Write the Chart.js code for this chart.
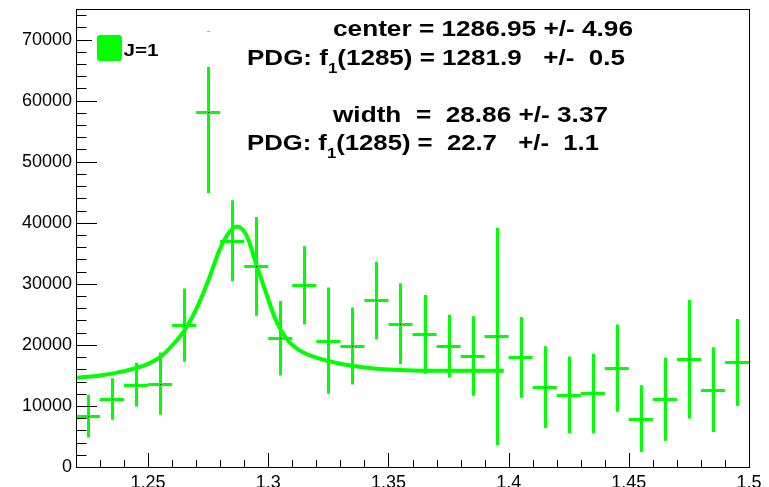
<!DOCTYPE html>
<html>
<head>
<meta charset="UTF-8">
<title>f1(1285) fit</title>
<script src="https://cdn.jsdelivr.net/npm/chart.js"></script>
<style>
  html, body { margin: 0; padding: 0; background: #fff; overflow: hidden; }
  canvas { display: block; }
</style>
</head>
<body>
<canvas id="c" width="769" height="487"></canvas>
<script>
// histogram bins (centres), contents and errors
const binCenters = [1.225, 1.235, 1.245, 1.255, 1.265, 1.275, 1.285, 1.295, 1.305, 1.315,
                    1.325, 1.335, 1.345, 1.355, 1.365, 1.375, 1.385, 1.395, 1.405, 1.415,
                    1.425, 1.435, 1.445, 1.455, 1.465, 1.475, 1.485, 1.495];
const counts = [8350, 11130, 13490, 13650, 23240, 58100, 37050, 32850, 21100, 29740,
                20690, 19800, 27280, 23470, 21720, 19800, 18170, 21390, 17950, 13090,
                11840, 12060, 16200, 7920, 11080, 17630, 12670, 17140];
const errors = [3500, 3400, 3600, 5100, 6000, 13260, 6650, 8100, 6100, 6400,
                8700, 6300, 6350, 6600, 6450, 5130, 6500, 17800, 6600, 6700,
                6270, 6500, 7150, 5450, 6800, 9700, 6950, 7100];
const binWidth = 0.01;

// fitted curve
const fitX = [1.220, 1.230, 1.240, 1.250, 1.255, 1.260, 1.265, 1.270, 1.275, 1.280,
              1.2835, 1.287, 1.291, 1.295, 1.299, 1.303, 1.308, 1.313, 1.320, 1.330,
              1.340, 1.350, 1.360, 1.380, 1.398];
const fitY = [14600, 15000, 15700, 16900, 18000, 19900, 22300, 25800, 30500, 35800,
              38300, 39400, 37900, 33200, 28600, 24200, 20800, 19100, 17900, 16900,
              16300, 15950, 15800, 15750, 15750];

const xTicks = [1.25, 1.3, 1.35, 1.4, 1.45, 1.5];
const yTicks = [0, 10000, 20000, 30000, 40000, 50000, 60000, 70000];
const legendLabel = 'J=1';

const GREEN = '#00ff00';
const FONT = '"Liberation Sans", Helvetica, Arial, sans-serif';

// helper: draw text pieces (with optional subscript) stretched to a target width
function drawLine(ctx, pieces, x, base, size, targetW) {
  ctx.save();
  let w = 0;
  pieces.forEach(p => {
    ctx.font = 'bold ' + (p.sub ? size * 0.65 : size) + 'px ' + FONT;
    w += ctx.measureText(p.t).width;
  });
  const sx = targetW / w;
  ctx.translate(x, base);
  ctx.scale(sx, 1);
  ctx.fillStyle = '#000';
  ctx.textBaseline = 'alphabetic';
  ctx.textAlign = 'left';
  let cx = 0;
  pieces.forEach(p => {
    ctx.font = 'bold ' + (p.sub ? size * 0.65 : size) + 'px ' + FONT;
    ctx.fillText(p.t, cx, p.sub ? size * 0.38 : 0);
    cx += ctx.measureText(p.t).width;
  });
  ctx.restore();
}

const rootStyle = {
  id: 'rootStyle',
  beforeDatasetsDraw(chart) {
    const {ctx, chartArea: a, scales: {x, y}} = chart;
    ctx.save();
    ctx.beginPath();
    ctx.rect(a.left, a.top, a.right - a.left, a.bottom - a.top);
    ctx.clip();
    ctx.strokeStyle = GREEN;
    ctx.lineWidth = 3;
    binCenters.forEach((c, i) => {
      const px = Math.round(x.getPixelForValue(c)) + 0.5;
      const py = Math.round(y.getPixelForValue(counts[i])) + 0.5;
      ctx.beginPath();
      ctx.moveTo(x.getPixelForValue(c - binWidth / 2), py);
      ctx.lineTo(x.getPixelForValue(c + binWidth / 2), py);
      ctx.moveTo(px, y.getPixelForValue(counts[i] - errors[i]));
      ctx.lineTo(px, y.getPixelForValue(counts[i] + errors[i]));
      ctx.stroke();
    });
    ctx.restore();
  },
  afterDatasetsDraw(chart) {
    const {ctx, chartArea: a, scales: {x, y}} = chart;
    ctx.save();
    // tiny black markers
    ctx.fillStyle = '#000';
    binCenters.forEach((c, i) => {
      ctx.fillRect(Math.round(x.getPixelForValue(c)), Math.round(y.getPixelForValue(counts[i])), 1, 1);
    });

    // frame
    ctx.strokeStyle = '#000';
    ctx.lineWidth = 1;
    ctx.strokeRect(Math.round(a.left) + 0.5, Math.round(a.top) + 0.5,
                   Math.round(a.right - a.left), Math.round(a.bottom - a.top));

    // ticks pointing inward
    ctx.beginPath();
    const ylen = 21, xlen = 14;
    for (let v = 0; v <= y.max + 1; v += 2000) {
      const py = Math.round(y.getPixelForValue(v)) + 0.5;
      const len = v % 10000 === 0 ? ylen : ylen / 2;
      ctx.moveTo(a.left, py);
      ctx.lineTo(a.left + len, py);
    }
    for (let k = 122; k <= 150; k++) {
      const v = k / 100;
      const px = Math.round(x.getPixelForValue(v)) + 0.5;
      const len = k % 5 === 0 ? xlen : xlen / 2;
      ctx.moveTo(px, a.bottom);
      ctx.lineTo(px, a.bottom - len);
    }
    ctx.stroke();

    // legend box (white, hides part of the tall error bar)
    ctx.fillStyle = '#fff';
    ctx.fillRect(92, 32, 124, 35);
    ctx.fillStyle = GREEN;
    ctx.beginPath();
    ctx.roundRect(97, 35, 25, 26, 3);
    ctx.fill();
    drawLine(ctx, [{t: legendLabel}], 123.5, 55.5, 17, 35);

    // fit results
    drawLine(ctx, [{t: 'center = 1286.95 +/- 4.96'}], 333, 36, 21.5, 300);
    drawLine(ctx, [{t: 'PDG: f'}, {t: '1', sub: true}, {t: '(1285) = 1281.9   +/-  0.5'}], 247, 65, 22, 378);
    drawLine(ctx, [{t: 'width  =  28.86 +/- 3.37'}], 333, 122, 21.5, 275);
    drawLine(ctx, [{t: 'PDG: f'}, {t: '1', sub: true}, {t: '(1285) =  22.7   +/-  1.1'}], 247, 150, 22, 352);
    ctx.restore();
  }
};

new Chart(document.getElementById('c'), {
  type: 'scatter',
  data: {
    datasets: [
      {
        data: binCenters.map((c, i) => ({x: c, y: counts[i]})),
        pointRadius: 0,
        showLine: false
      },
      {
        data: fitX.map((v, i) => ({x: v, y: fitY[i]})),
        showLine: true,
        borderColor: GREEN,
        borderWidth: 4,
        pointRadius: 0,
        cubicInterpolationMode: 'monotone'
      }
    ]
  },
  options: {
    responsive: false,
    animation: false,
    layout: { padding: { top: 9, right: 20, left: 0, bottom: 0 } },
    plugins: { legend: { display: false }, tooltip: { enabled: false } },
    scales: {
      x: {
        type: 'linear',
        min: 1.22,
        max: 1.5,
        afterBuildTicks: s => { s.ticks = xTicks.map(v => ({value: v})); },
        afterFit: s => { s.height = 20; s.paddingLeft = 0; s.paddingRight = 0; },
        grid: { display: false, drawTicks: false },
        border: { display: false },
        ticks: {
          color: '#000',
          font: { family: FONT, size: 18 },
          padding: 5,
          maxRotation: 0,
          autoSkip: false,
          callback: v => String(+v.toFixed(2))
        }
      },
      y: {
        type: 'linear',
        min: 0,
        max: 75000,
        afterBuildTicks: s => { s.ticks = yTicks.map(v => ({value: v})); },
        afterFit: s => { s.width = 76; s.paddingTop = 0; s.paddingBottom = 0; },
        grid: { display: false, drawTicks: false },
        border: { display: false },
        ticks: {
          color: '#000',
          font: { family: FONT, size: 18 },
          padding: 4,
          autoSkip: false,
          callback: v => String(v)
        }
      }
    }
  },
  plugins: [rootStyle]
});
</script>
</body>
</html>
